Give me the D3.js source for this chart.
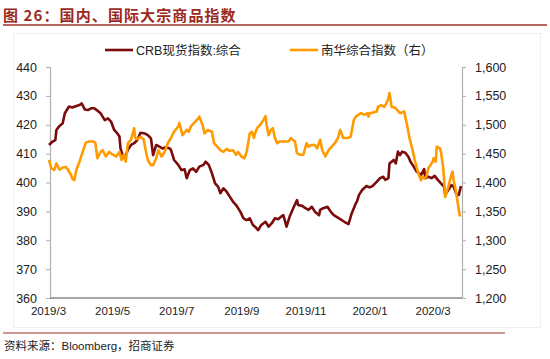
<!DOCTYPE html>
<html><head><meta charset="utf-8">
<script src="https://cdn.jsdelivr.net/npm/d3@7"></script>
<style>
body{margin:0;background:#fff;}
svg{display:block;font-family:"Liberation Sans","Noto Sans CJK SC",Arial,sans-serif;}
</style></head>
<body><svg id="c" width="550" height="359"></svg>
<script>
const titleText = "图 26：国内、国际大宗商品指数";
const sourceText = "资料来源：Bloomberg，招商证券";
const seriesNames = ["CRB现货指数:综合", "南华综合指数（右）"];
const xTickDates = ["2019-03-01","2019-05-01","2019-07-01","2019-09-01","2019-11-01","2020-01-01","2020-03-01"];
const xTickLabels = ["2019/3","2019/5","2019/7","2019/9","2019/11","2020/1","2020/3"];
const leftTicks = [360,370,380,390,400,410,420,430,440];
const rightTicks = [1200,1250,1300,1350,1400,1450,1500,1550,1600];

const crbDates = ["2019-03-02","2019-03-05","2019-03-08","2019-03-09","2019-03-12","2019-03-15","2019-03-17","2019-03-21","2019-03-24","2019-03-28","2019-03-31","2019-04-02","2019-04-05","2019-04-08","2019-04-11","2019-04-14","2019-04-17","2019-04-20","2019-04-24","2019-04-27","2019-04-30","2019-05-03","2019-05-06","2019-05-08","2019-05-09","2019-05-11","2019-05-13","2019-05-16","2019-05-19","2019-05-22","2019-05-25","2019-05-28","2019-06-01","2019-06-04","2019-06-07","2019-06-09","2019-06-12","2019-06-15","2019-06-18","2019-06-21","2019-06-25","2019-06-26","2019-06-29","2019-07-03","2019-07-06","2019-07-09","2019-07-11","2019-07-14","2019-07-17","2019-07-20","2019-07-23","2019-07-27","2019-07-29","2019-08-01","2019-08-04","2019-08-07","2019-08-10","2019-08-12","2019-08-15","2019-08-18","2019-08-21","2019-08-24","2019-08-27","2019-08-31","2019-09-03","2019-09-06","2019-09-09","2019-09-12","2019-09-14","2019-09-17","2019-09-20","2019-09-24","2019-09-27","2019-09-30","2019-10-03","2019-10-06","2019-10-09","2019-10-11","2019-10-14","2019-10-17","2019-10-21","2019-10-24","2019-10-25","2019-10-29","2019-11-01","2019-11-04","2019-11-07","2019-11-10","2019-11-14","2019-11-15","2019-11-18","2019-11-22","2019-11-25","2019-11-28","2019-12-03","2019-12-08","2019-12-12","2019-12-15","2019-12-19","2019-12-20","2019-12-22","2019-12-25","2019-12-29","2020-01-01","2020-01-04","2020-01-08","2020-01-11","2020-01-14","2020-01-16","2020-01-19","2020-01-20","2020-01-24","2020-01-26","2020-01-28","2020-01-30","2020-02-01","2020-02-04","2020-02-07","2020-02-09","2020-02-12","2020-02-15","2020-02-19","2020-02-22","2020-02-23","2020-02-26","2020-02-29","2020-03-03","2020-03-06","2020-03-09","2020-03-12","2020-03-13","2020-03-17","2020-03-19","2020-03-21","2020-03-24","2020-03-26","2020-03-28"];
const crbValues = [413.0,414.1,414.7,418.2,419.6,420.5,424.0,426.3,426.0,426.5,426.8,427.4,425.3,425.1,425.7,425.7,424.9,424.0,421.6,422.2,421.1,418.2,417.0,415.9,411.8,409.5,408.4,411.3,413.0,413.6,414.7,417.2,417.0,416.4,415.3,409.5,413.0,412.4,411.8,412.2,411.8,411.3,407.8,406.1,404.3,404.6,401.5,404.3,404.9,403.7,405.5,406.1,407.2,406.1,403.2,399.7,398.5,396.3,398.0,396.8,395.1,393.4,392.2,389.9,387.6,387.0,387.6,385.3,384.7,383.5,385.3,386.4,384.7,385.9,387.6,387.3,388.2,388.7,384.7,388.2,391.6,393.9,392.2,391.9,391.1,390.5,391.6,389.9,388.7,390.5,391.1,391.6,389.9,388.7,387.6,386.4,385.6,389.3,392.8,393.4,395.7,397.4,398.8,398.3,398.8,400.3,401.5,402.0,400.9,401.5,406.6,407.8,406.6,410.7,409.5,410.7,410.3,408.9,407.2,405.5,403.7,402.6,404.6,401.5,402.0,401.5,402.3,400.9,399.7,398.5,395.7,398.0,399.1,398.5,395.7,395.7,398.8];

const nhDates = ["2019-03-02","2019-03-04","2019-03-07","2019-03-09","2019-03-12","2019-03-15","2019-03-18","2019-03-20","2019-03-23","2019-03-24","2019-03-26","2019-03-28","2019-03-31","2019-04-03","2019-04-06","2019-04-09","2019-04-13","2019-04-15","2019-04-17","2019-04-20","2019-04-22","2019-04-25","2019-04-28","2019-05-01","2019-05-05","2019-05-08","2019-05-10","2019-05-12","2019-05-14","2019-05-16","2019-05-19","2019-05-22","2019-05-23","2019-05-25","2019-05-28","2019-05-31","2019-06-02","2019-06-04","2019-06-07","2019-06-09","2019-06-12","2019-06-14","2019-06-17","2019-06-20","2019-06-23","2019-06-26","2019-06-29","2019-07-03","2019-07-04","2019-07-07","2019-07-11","2019-07-13","2019-07-15","2019-07-19","2019-07-22","2019-07-23","2019-07-26","2019-07-28","2019-07-31","2019-08-04","2019-08-06","2019-08-09","2019-08-12","2019-08-15","2019-08-18","2019-08-21","2019-08-24","2019-08-27","2019-08-29","2019-09-01","2019-09-04","2019-09-06","2019-09-09","2019-09-11","2019-09-13","2019-09-14","2019-09-16","2019-09-19","2019-09-22","2019-09-24","2019-09-25","2019-09-27","2019-09-29","2019-10-01","2019-10-03","2019-10-05","2019-10-08","2019-10-13","2019-10-16","2019-10-18","2019-10-22","2019-10-24","2019-10-27","2019-10-30","2019-11-02","2019-11-04","2019-11-07","2019-11-10","2019-11-12","2019-11-15","2019-11-17","2019-11-20","2019-11-23","2019-11-26","2019-11-29","2019-12-02","2019-12-04","2019-12-07","2019-12-11","2019-12-14","2019-12-17","2019-12-19","2019-12-21","2019-12-24","2019-12-27","2019-12-30","2019-12-31","2020-01-01","2020-01-04","2020-01-08","2020-01-09","2020-01-12","2020-01-15","2020-01-17","2020-01-19","2020-01-20","2020-01-22","2020-01-25","2020-01-27","2020-01-30","2020-02-03","2020-02-04","2020-02-06","2020-02-08","2020-02-11","2020-02-13","2020-02-15","2020-02-17","2020-02-19","2020-02-20","2020-02-22","2020-02-24","2020-02-26","2020-02-28","2020-03-01","2020-03-02","2020-03-04","2020-03-05","2020-03-08","2020-03-09","2020-03-11","2020-03-12","2020-03-13","2020-03-16","2020-03-18","2020-03-20","2020-03-21","2020-03-23","2020-03-25","2020-03-27"];
const nhValues = [1439,1425,1422,1433,1422,1426,1427,1422,1413,1407,1404,1422,1436,1453,1469,1471,1471,1469,1442,1453,1456,1445,1453,1449,1445,1453,1439,1448,1436,1468,1474,1494,1477,1475,1479,1475,1456,1439,1430,1430,1442,1456,1445,1453,1468,1477,1488,1497,1503,1482,1491,1488,1497,1505,1511,1514,1500,1485,1491,1488,1468,1462,1456,1453,1458,1455,1456,1448,1453,1445,1442,1453,1485,1488,1477,1485,1494,1500,1508,1515,1500,1482,1491,1494,1477,1468,1471,1471,1471,1477,1471,1451,1448,1448,1468,1462,1465,1465,1459,1474,1456,1445,1456,1462,1468,1477,1491,1477,1477,1479,1508,1514,1517,1520,1517,1520,1514,1520,1521,1523,1531,1534,1531,1537,1546,1555,1531,1530,1526,1520,1523,1514,1497,1477,1456,1439,1425,1413,1404,1410,1407,1410,1425,1430,1436,1442,1436,1462,1459,1453,1427,1404,1375,1393,1407,1419,1404,1387,1364,1341];

const svg = d3.select("#c");
const parse = d3.timeParse("%Y-%m-%d");
const L = 50, R = 462, T = 67, B = 298;

const x = d3.scaleTime().domain([parse("2019-03-01"), parse("2020-03-29")]).range([48, R]);
const yL = d3.scaleLinear().domain([360, 440]).range([B, T]);
const yR = d3.scaleLinear().domain([1200, 1600]).range([B, T]);

// faint outer chart frame
svg.append("rect").attr("x",13.5).attr("y",33.5).attr("width",527).attr("height",294)
  .attr("fill","none").attr("stroke","#f0f0f0");

// title
svg.append("text").attr("x",3).attr("y",20.5).text(titleText)
  .attr("font-family","'Noto Sans CJK SC',sans-serif").attr("font-weight","bold")
  .attr("font-size",15).attr("letter-spacing",1.1).attr("fill","#9B2A1E");
svg.append("line").attr("x1",3).attr("x2",547).attr("y1",25).attr("y2",25)
  .attr("stroke","#A0302A").attr("stroke-width",1.5);

// axes
const gl = svg.append("g").attr("transform",`translate(${L},0)`)
  .call(d3.axisLeft(yL).tickValues(leftTicks).tickSize(4).tickPadding(9).tickFormat(d3.format("d")));
const gr = svg.append("g").attr("transform",`translate(${R},0)`)
  .call(d3.axisRight(yR).tickValues(rightTicks).tickSize(4).tickPadding(9).tickFormat(d3.format(",")));
[gl, gr].forEach(g => {
  g.select(".domain").attr("stroke","#b0b0b0").attr("stroke-width",1.2);
  g.selectAll(".tick line").attr("stroke","#b0b0b0");
  g.selectAll("text").attr("font-size",12.5).attr("fill","#222")
   .attr("font-family","'Liberation Sans',Arial,sans-serif");
});
const gb = svg.append("g").attr("transform",`translate(0,${B})`)
  .call(d3.axisBottom(x).tickValues(xTickDates.map(parse)).tickSize(0).tickPadding(9)
    .tickFormat((d,i)=>xTickLabels[i]));
gb.select(".domain").attr("stroke","#888").attr("stroke-width",1.5).attr("d",`M${L},0H${R}`);
gb.selectAll("text").attr("font-size",11.5).attr("fill","#222")
  .attr("font-family","'Liberation Sans',Arial,sans-serif");

// lines
const crb = crbDates.map((d,i)=>({d:parse(d), v:crbValues[i]}));
const nh = nhDates.map((d,i)=>({d:parse(d), v:nhValues[i]}));
svg.append("path").datum(crb).attr("fill","none").attr("stroke","#7A0C0C")
  .attr("stroke-width",2.6).attr("stroke-linejoin","round")
  .attr("d", d3.line().x(p=>x(p.d)).y(p=>yL(p.v)));
svg.append("path").datum(nh).attr("fill","none").attr("stroke","#FF9A00")
  .attr("stroke-width",2.6).attr("stroke-linejoin","round")
  .attr("d", d3.line().x(p=>x(p.d)).y(p=>yR(p.v)));

// legend
const legend = [{name:seriesNames[0], color:"#7A0C0C", x:105},{name:seriesNames[1], color:"#FF9A00", x:290}];
legend.forEach(l=>{
  svg.append("line").attr("x1",l.x).attr("x2",l.x+28).attr("y1",50).attr("y2",50)
    .attr("stroke",l.color).attr("stroke-width",2.6);
  svg.append("text").attr("x",l.x+31).attr("y",54.5).text(l.name)
    .attr("font-size",12.5).attr("fill","#222")
    .attr("font-family","'Liberation Sans','Noto Sans CJK SC',sans-serif");
});

// source
svg.append("line").attr("x1",3).attr("x2",505).attr("y1",333).attr("y2",333)
  .attr("stroke","#A0302A").attr("stroke-width",1.2);
svg.append("text").attr("x",4).attr("y",350).text(sourceText)
  .attr("font-size",11.5).attr("fill","#222")
  .attr("font-family","'Liberation Sans','Noto Sans CJK SC',sans-serif");
</script></body></html>
